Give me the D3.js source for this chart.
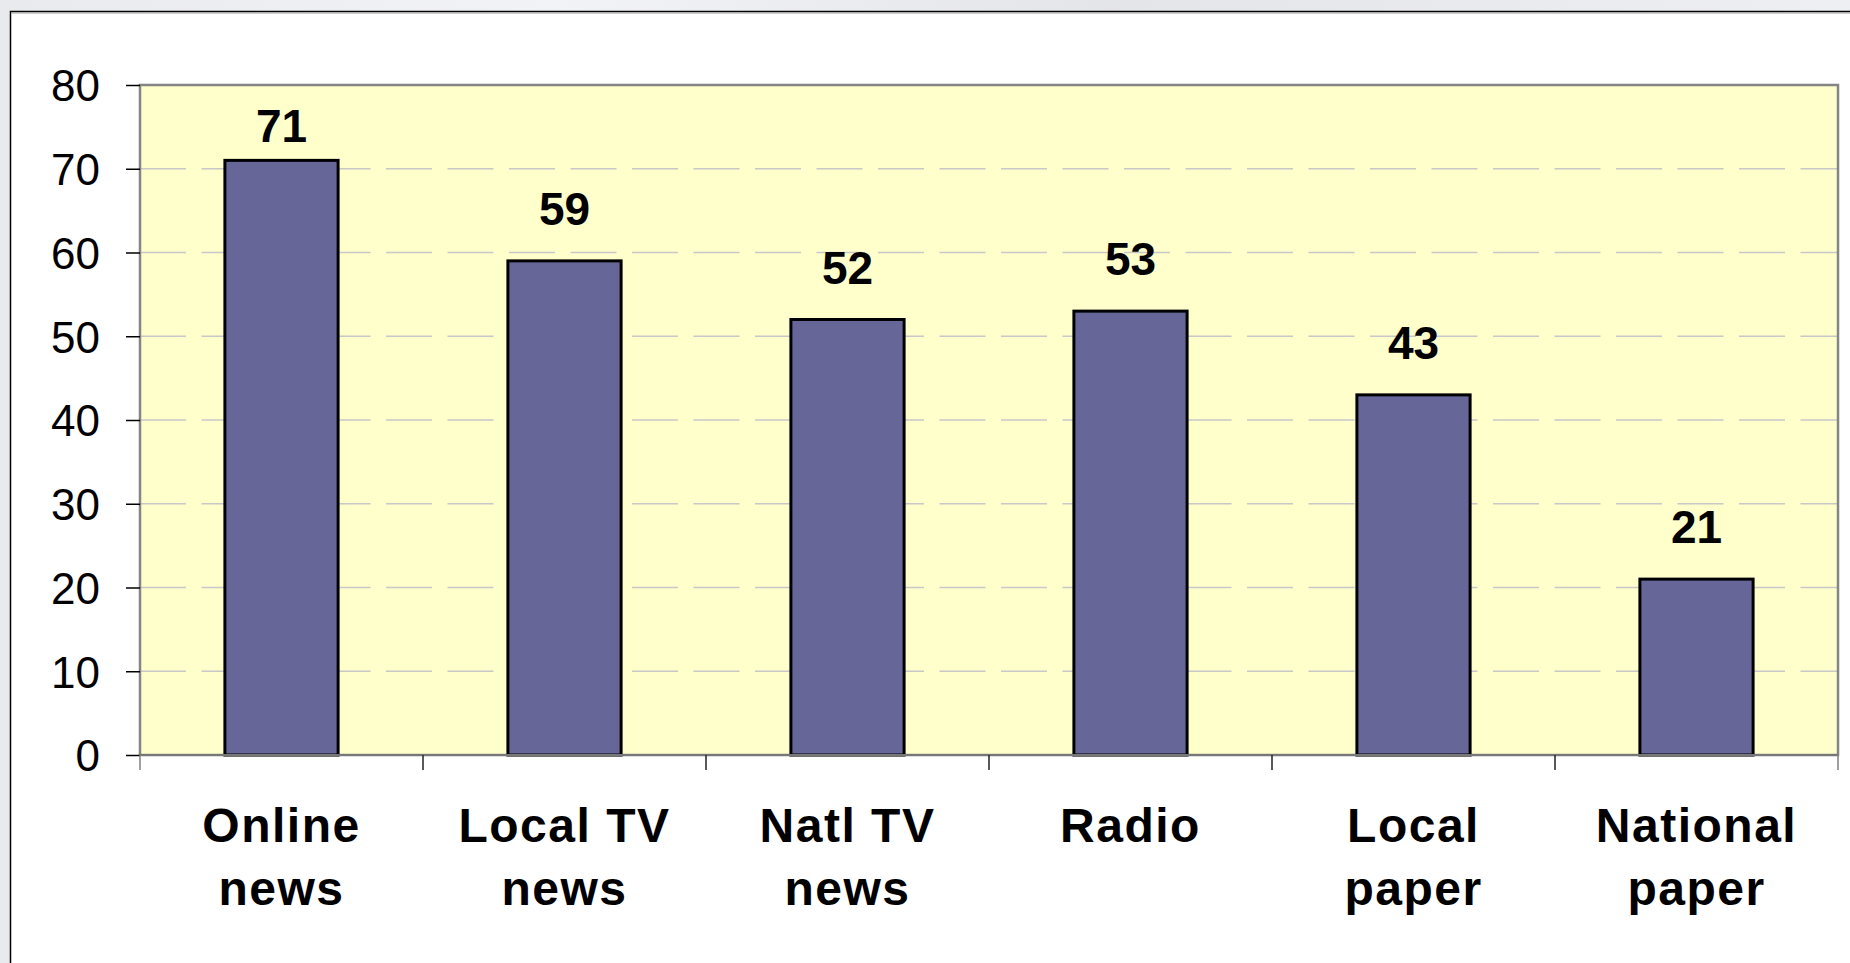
<!DOCTYPE html>
<html>
<head>
<meta charset="utf-8">
<script src="https://cdn.jsdelivr.net/npm/d3@7"></script>
<style>
  html, body { margin: 0; padding: 0; background: #ffffff; }
  svg { display: block; }
  text { font-family: "Liberation Sans", Arial, sans-serif; fill: #000; }
</style>
</head>
<body>
<svg id="chart" width="1850" height="963"></svg>
<script>
// News sources and their share
const categories = [["Online", "news"], ["Local TV", "news"], ["Natl TV", "news"], ["Radio"], ["Local", "paper"], ["National", "paper"]];
const values = [71, 59, 52, 53, 43, 21];
const yTicks = [0, 10, 20, 30, 40, 50, 60, 70, 80];

const W = 1850, H = 963;
const plot = { left: 140, top: 85, right: 1838, bottom: 755 };

const svg = d3.select("#chart");

// slide backdrop behind the chart frame
const defs = svg.append("defs");
const bg = defs.append("linearGradient").attr("id", "backdrop").attr("x1", 0).attr("x2", 1).attr("y1", 0).attr("y2", 0);
bg.append("stop").attr("offset", "0%").attr("stop-color", "#e9eaee");
bg.append("stop").attr("offset", "30%").attr("stop-color", "#f2f3f6");
bg.append("stop").attr("offset", "60%").attr("stop-color", "#e4e5e9");
bg.append("stop").attr("offset", "100%").attr("stop-color", "#eeeff2");
svg.append("rect").attr("x", 0).attr("y", 0).attr("width", W).attr("height", H).attr("fill", "url(#backdrop)");

// chart frame
svg.append("rect").attr("x", 10.5).attr("y", 11.5).attr("width", W).attr("height", H)
  .attr("fill", "#ffffff").attr("stroke", "#000").attr("stroke-width", 1.5);
svg.append("line").attr("x1", 11).attr("x2", W).attr("y1", 13).attr("y2", 13)
  .attr("stroke", "#9a9a9a").attr("stroke-width", 1);

const x = d3.scaleBand().domain(d3.range(categories.length)).range([plot.left, plot.right]).padding(0);
const y = d3.scaleLinear().domain([0, 80]).range([plot.bottom, plot.top]);
const barW = x.bandwidth() * 0.4;

// plot area
svg.append("rect").attr("x", plot.left).attr("y", plot.top)
  .attr("width", plot.right - plot.left).attr("height", plot.bottom - plot.top)
  .attr("fill", "#ffffcc");

// dashed gridlines
svg.append("g").selectAll("line").data(yTicks.filter(d => d > 0 && d < 80)).join("line")
  .attr("x1", plot.left).attr("x2", plot.right)
  .attr("y1", d => y(d)).attr("y2", d => y(d))
  .attr("stroke", "#c8c8c8").attr("stroke-width", 1.5)
  .attr("stroke-dasharray", "46,15.5");

// plot border
svg.append("rect").attr("x", plot.left).attr("y", plot.top)
  .attr("width", plot.right - plot.left).attr("height", plot.bottom - plot.top)
  .attr("fill", "none").attr("stroke", "#858585").attr("stroke-width", 2.5);

// bars
svg.append("g").selectAll("rect").data(values).join("rect")
  .attr("x", (d, i) => x(i) + (x.bandwidth() - barW) / 2)
  .attr("y", d => y(d))
  .attr("width", barW)
  .attr("height", d => y(0) - y(d))
  .attr("fill", "#666699")
  .attr("stroke", "#000").attr("stroke-width", 3);

// value labels, kept clear of the plot's top edge
svg.append("g").selectAll("text").data(values).join("text")
  .attr("x", (d, i) => x(i) + x.bandwidth() / 2)
  .attr("y", d => Math.max(y(d) - 36, plot.top + 57))
  .attr("text-anchor", "middle")
  .attr("font-size", 46).attr("font-weight", "bold")
  .text(d => d);

// y axis
const yAxis = svg.append("g").attr("transform", `translate(${plot.left},0)`)
  .call(d3.axisLeft(y).tickValues(yTicks).tickSize(14).tickPadding(26).tickFormat(d3.format("d")));
yAxis.select(".domain").remove();
yAxis.selectAll(".tick line").attr("stroke", "#000").attr("stroke-width", 1.5);
yAxis.selectAll(".tick text").attr("font-size", 44).attr("font-family", "Liberation Sans, Arial, sans-serif")
  .attr("fill", "#000").attr("dy", "0.36em");

// x axis line and band-boundary ticks
svg.append("line").attr("x1", plot.left).attr("x2", plot.right)
  .attr("y1", plot.bottom).attr("y2", plot.bottom)
  .attr("stroke", "#777").attr("stroke-width", 2);
const bounds = d3.range(categories.length + 1).map(i => i < categories.length ? x(i) : plot.right);
svg.append("g").selectAll("line").data(bounds).join("line")
  .attr("x1", d => d).attr("x2", d => d)
  .attr("y1", plot.bottom).attr("y2", plot.bottom + 15)
  .attr("stroke", (d, i) => (i === 0 || i === bounds.length - 1) ? "#808080" : "#222")
  .attr("stroke-width", 1.5);

// category labels
const cat = svg.append("g").selectAll("text").data(categories).join("text")
  .attr("x", (d, i) => x(i) + x.bandwidth() / 2)
  .attr("y", 842)
  .attr("text-anchor", "middle")
  .attr("font-size", 48).attr("font-weight", "bold")
  .attr("letter-spacing", 1.5);
cat.selectAll("tspan").data(d => d).join("tspan")
  .attr("x", function () { return d3.select(this.parentNode).attr("x"); })
  .attr("dy", (d, j) => j === 0 ? 0 : 63)
  .text(d => d);
</script>
</body>
</html>
